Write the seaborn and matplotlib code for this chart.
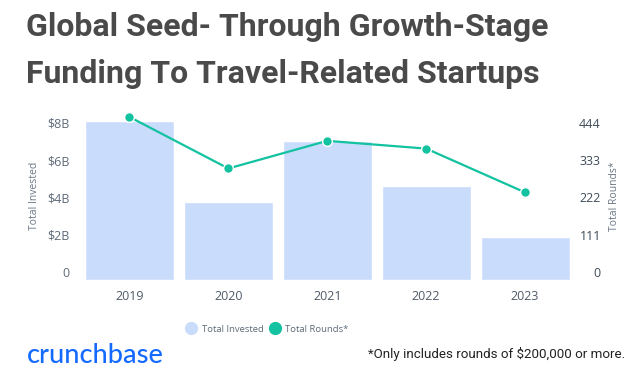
import numpy as np
import pandas as pd
import matplotlib
matplotlib.use("Agg")
import matplotlib.pyplot as plt
import matplotlib.transforms as mtransforms
from matplotlib.lines import Line2D
import seaborn as sns

# data
years = ["2019", "2020", "2021", "2022", "2023"]
total_invested = [8.5, 4.15, 7.43, 5.03, 2.32]   # $B
total_rounds = [484, 331, 413, 390, 260]

invested_ticks = [0, 2, 4, 6, 8]
invested_tick_labels = ["0", "$2B", "$4B", "$6B", "$8B"]
rounds_ticks = [0, 111, 222, 333, 444]

bar_color = "#cadcfc"
line_color = "#12c2a0"
title_color = "#4a4a4a"

sns.set_style("white")
plt.rcParams["font.family"] = ["Open Sans", "DejaVu Sans"]

df = pd.DataFrame({"year": years, "invested": total_invested, "rounds": total_rounds})

W, H = 631, 367
fig = plt.figure(figsize=(W / 100, H / 100), dpi=100)
ax = fig.add_axes([80 / W, (H - 280) / H, 494.5 / W, 168.3 / H])

sns.barplot(data=df, x="year", y="invested", color=bar_color, width=0.9,
            saturation=1, ax=ax, zorder=1)
ax.set_ylim(0, 9)
ax.set_xlim(-0.5, 4.5)
ax.set_yticks(invested_ticks)
ax.set_yticklabels(invested_tick_labels)
ax.set_xlabel("")
ax.set_ylabel("Total Invested", fontsize=7.5, color="#6b7785", labelpad=5)
ax.tick_params(axis="y", length=0, pad=7.5, labelsize=9, labelcolor="#5e6b78")
ax.tick_params(axis="x", length=0, pad=7, labelsize=9, labelcolor="#4f5b68")
sns.despine(ax=ax, left=True, bottom=True)

ax2 = ax.twinx()
sns.lineplot(data=df, x="year", y="rounds", color=line_color, linewidth=1.6,
             marker="o", markersize=7, markeredgecolor="white",
             markeredgewidth=1, ax=ax2)
ax2.set_ylim(0, 444 * 9 / 8)
ax2.set_xlim(-0.5, 4.5)
ax2.set_yticks(rounds_ticks)
ax2.set_ylabel("Total Rounds*", fontsize=7.5, color="#6b7785", labelpad=6)
ax2.tick_params(axis="y", length=0, pad=19, labelsize=9, labelcolor="#3f4c5a")
for lab in ax2.get_yticklabels():
    lab.set_horizontalalignment("right")
sns.despine(ax=ax2, left=True, bottom=True, right=True)

# tick labels sit a little above their value line in the original
offset = mtransforms.ScaledTranslation(0, 7.7 / 100, fig.dpi_scale_trans)
for lab in ax.get_yticklabels() + ax2.get_yticklabels():
    lab.set_transform(lab.get_transform() + offset)

# title
fig.text(26 / W, 1 - 36 / H, "Global Seed- Through Growth-Stage", fontsize=23,
         fontweight="bold", family="Roboto", color=title_color, va="baseline")
fig.text(26 / W, 1 - 83 / H, "Funding To Travel-Related Startups", fontsize=23,
         fontweight="bold", family="Roboto", color=title_color, va="baseline")

# legend
handles = [
    Line2D([], [], marker="o", linestyle="none", markersize=8.5,
           markerfacecolor=bar_color, markeredgecolor=bar_color, label="Total Invested"),
    Line2D([], [], marker="o", linestyle="none", markersize=8.5,
           markerfacecolor=line_color, markeredgecolor=line_color, label="Total Rounds*"),
]
fig.legend(handles=handles, loc="center", bbox_to_anchor=(267 / W, 1 - 329 / H),
           ncol=2, frameon=False, fontsize=6.8, labelcolor="#5e6b78",
           handletextpad=0.5, columnspacing=0.6, handlelength=1.2)

# footer
fig.text(27 / W, 1 - 363 / H, "crunchbase", fontsize=19.5, family="Lato",
         fontweight="medium", color="#146aff", va="baseline")
fig.text(625 / W, 1 - 358 / H, "*Only includes rounds of $200,000 or more.",
         fontsize=9.6, family="Roboto", color="#222222", ha="right", va="baseline")

fig.savefig("out.png", dpi=100)
